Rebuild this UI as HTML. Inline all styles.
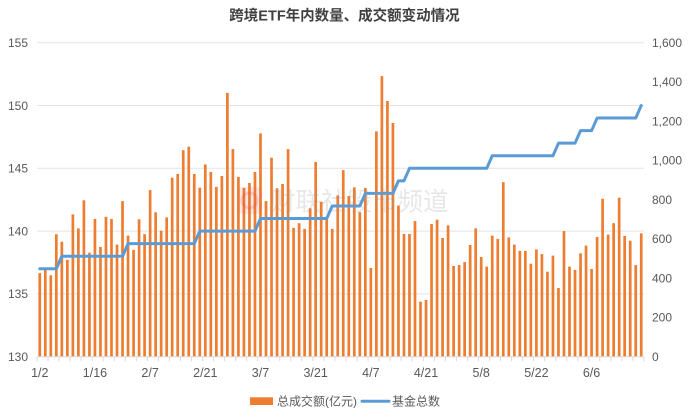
<!DOCTYPE html>
<html><head><meta charset="utf-8"><style>
html,body{margin:0;padding:0;background:#fff;}
svg{display:block;}
text{font-family:"Liberation Sans","Noto Sans CJK SC",sans-serif;}
</style></head><body>
<svg width="692" height="419" viewBox="0 0 692 419" xmlns="http://www.w3.org/2000/svg">
<rect width="692" height="419" fill="#fff"/>
<text x="344.5" y="20.5" text-anchor="middle" font-size="14.5" font-weight="bold" fill="#404040">跨境ETF年内数量、成交额变动情况</text>
<g stroke="#e3e3e3" stroke-width="1">
<line x1="37" y1="42.7" x2="644" y2="42.7"/>
<line x1="37" y1="105.5" x2="644" y2="105.5"/>
<line x1="37" y1="168.3" x2="644" y2="168.3"/>
<line x1="37" y1="231.1" x2="644" y2="231.1"/>
<line x1="37" y1="293.9" x2="644" y2="293.9"/>
</g>
<g fill="#595959" font-size="12" text-anchor="end">
<text x="28" y="47">155</text><text x="28" y="109.8">150</text><text x="28" y="172.6">145</text><text x="28" y="235.4">140</text><text x="28" y="298.2">135</text><text x="28" y="361">130</text>
</g>
<g fill="#595959" font-size="12">
<text x="652" y="47">1,600</text><text x="652" y="86.2">1,400</text><text x="652" y="125.5">1,200</text><text x="652" y="164.7">1,000</text><text x="652" y="204">800</text><text x="652" y="243.2">600</text><text x="652" y="282.5">400</text><text x="652" y="321.7">200</text><text x="652" y="361">0</text>
</g>
<g fill="#ED7D31">
<rect x="38.41" y="273.1" width="2.7" height="83.6"/>
<rect x="43.93" y="269.4" width="2.7" height="87.3"/>
<rect x="49.45" y="275.3" width="2.7" height="81.4"/>
<rect x="54.96" y="234.2" width="2.7" height="122.5"/>
<rect x="60.48" y="241.7" width="2.7" height="115"/>
<rect x="66.00" y="259.9" width="2.7" height="96.8"/>
<rect x="71.52" y="214.4" width="2.7" height="142.3"/>
<rect x="77.04" y="228.4" width="2.7" height="128.3"/>
<rect x="82.55" y="200.3" width="2.7" height="156.4"/>
<rect x="88.07" y="252.7" width="2.7" height="104"/>
<rect x="93.59" y="218.9" width="2.7" height="137.8"/>
<rect x="99.11" y="247.0" width="2.7" height="109.7"/>
<rect x="104.63" y="216.8" width="2.7" height="139.9"/>
<rect x="110.14" y="218.9" width="2.7" height="137.8"/>
<rect x="115.66" y="244.6" width="2.7" height="112.1"/>
<rect x="121.18" y="201.1" width="2.7" height="155.6"/>
<rect x="126.70" y="235.6" width="2.7" height="121.1"/>
<rect x="132.22" y="249.9" width="2.7" height="106.8"/>
<rect x="137.74" y="219.3" width="2.7" height="137.4"/>
<rect x="143.25" y="234.2" width="2.7" height="122.5"/>
<rect x="148.77" y="190.1" width="2.7" height="166.6"/>
<rect x="154.29" y="212.3" width="2.7" height="144.4"/>
<rect x="159.81" y="230.7" width="2.7" height="126"/>
<rect x="165.33" y="217.4" width="2.7" height="139.3"/>
<rect x="170.84" y="177.7" width="2.7" height="179"/>
<rect x="176.36" y="174.0" width="2.7" height="182.7"/>
<rect x="181.88" y="150.2" width="2.7" height="206.5"/>
<rect x="187.40" y="146.7" width="2.7" height="210"/>
<rect x="192.92" y="174.0" width="2.7" height="182.7"/>
<rect x="198.43" y="187.7" width="2.7" height="169"/>
<rect x="203.95" y="164.4" width="2.7" height="192.3"/>
<rect x="209.47" y="172.0" width="2.7" height="184.7"/>
<rect x="214.99" y="186.9" width="2.7" height="169.8"/>
<rect x="220.51" y="176.0" width="2.7" height="180.7"/>
<rect x="226.03" y="92.9" width="2.7" height="263.8"/>
<rect x="231.54" y="149.1" width="2.7" height="207.6"/>
<rect x="237.06" y="176.9" width="2.7" height="179.8"/>
<rect x="242.58" y="187.9" width="2.7" height="168.8"/>
<rect x="248.10" y="183.0" width="2.7" height="173.7"/>
<rect x="253.62" y="172.0" width="2.7" height="184.7"/>
<rect x="259.14" y="133.4" width="2.7" height="223.3"/>
<rect x="264.65" y="201.1" width="2.7" height="155.6"/>
<rect x="270.17" y="157.7" width="2.7" height="199"/>
<rect x="275.69" y="188.3" width="2.7" height="168.4"/>
<rect x="281.21" y="184.0" width="2.7" height="172.7"/>
<rect x="286.73" y="149.1" width="2.7" height="207.6"/>
<rect x="292.24" y="227.8" width="2.7" height="128.9"/>
<rect x="297.76" y="223.2" width="2.7" height="133.5"/>
<rect x="303.28" y="228.9" width="2.7" height="127.8"/>
<rect x="308.80" y="208.3" width="2.7" height="148.4"/>
<rect x="314.32" y="162.0" width="2.7" height="194.7"/>
<rect x="319.83" y="201.7" width="2.7" height="155"/>
<rect x="325.35" y="217.4" width="2.7" height="139.3"/>
<rect x="330.87" y="228.9" width="2.7" height="127.8"/>
<rect x="336.39" y="195.4" width="2.7" height="161.3"/>
<rect x="341.91" y="170.1" width="2.7" height="186.6"/>
<rect x="347.43" y="196.0" width="2.7" height="160.7"/>
<rect x="352.94" y="187.3" width="2.7" height="169.4"/>
<rect x="358.46" y="212.1" width="2.7" height="144.6"/>
<rect x="363.98" y="187.9" width="2.7" height="168.8"/>
<rect x="369.50" y="268.0" width="2.7" height="88.7"/>
<rect x="375.02" y="131.4" width="2.7" height="225.3"/>
<rect x="380.53" y="76.1" width="2.7" height="280.6"/>
<rect x="386.05" y="101.0" width="2.7" height="255.7"/>
<rect x="391.57" y="123.0" width="2.7" height="233.7"/>
<rect x="397.09" y="205.6" width="2.7" height="151.1"/>
<rect x="402.61" y="234.0" width="2.7" height="122.7"/>
<rect x="408.12" y="234.0" width="2.7" height="122.7"/>
<rect x="413.64" y="221.1" width="2.7" height="135.6"/>
<rect x="419.16" y="301.7" width="2.7" height="55"/>
<rect x="424.68" y="300.0" width="2.7" height="56.7"/>
<rect x="430.20" y="224.0" width="2.7" height="132.7"/>
<rect x="435.72" y="219.7" width="2.7" height="137"/>
<rect x="441.23" y="238.0" width="2.7" height="118.7"/>
<rect x="446.75" y="225.4" width="2.7" height="131.3"/>
<rect x="452.27" y="266.0" width="2.7" height="90.7"/>
<rect x="457.79" y="265.1" width="2.7" height="91.6"/>
<rect x="463.31" y="262.1" width="2.7" height="94.6"/>
<rect x="468.82" y="245.0" width="2.7" height="111.7"/>
<rect x="474.34" y="228.4" width="2.7" height="128.3"/>
<rect x="479.86" y="257.0" width="2.7" height="99.7"/>
<rect x="485.38" y="266.6" width="2.7" height="90.1"/>
<rect x="490.90" y="235.6" width="2.7" height="121.1"/>
<rect x="496.41" y="238.9" width="2.7" height="117.8"/>
<rect x="501.93" y="182.2" width="2.7" height="174.5"/>
<rect x="507.45" y="237.4" width="2.7" height="119.3"/>
<rect x="512.97" y="244.6" width="2.7" height="112.1"/>
<rect x="518.49" y="250.9" width="2.7" height="105.8"/>
<rect x="524.01" y="250.9" width="2.7" height="105.8"/>
<rect x="529.52" y="263.7" width="2.7" height="93"/>
<rect x="535.04" y="249.4" width="2.7" height="107.3"/>
<rect x="540.56" y="254.1" width="2.7" height="102.6"/>
<rect x="546.08" y="271.7" width="2.7" height="85"/>
<rect x="551.60" y="255.6" width="2.7" height="101.1"/>
<rect x="557.11" y="288.0" width="2.7" height="68.7"/>
<rect x="562.63" y="231.1" width="2.7" height="125.6"/>
<rect x="568.15" y="266.6" width="2.7" height="90.1"/>
<rect x="573.67" y="270.0" width="2.7" height="86.7"/>
<rect x="579.19" y="253.3" width="2.7" height="103.4"/>
<rect x="584.70" y="245.6" width="2.7" height="111.1"/>
<rect x="590.22" y="269.0" width="2.7" height="87.7"/>
<rect x="595.74" y="237.0" width="2.7" height="119.7"/>
<rect x="601.26" y="198.7" width="2.7" height="158"/>
<rect x="606.78" y="234.6" width="2.7" height="122.1"/>
<rect x="612.30" y="223.2" width="2.7" height="133.5"/>
<rect x="617.81" y="197.7" width="2.7" height="159"/>
<rect x="623.33" y="236.0" width="2.7" height="120.7"/>
<rect x="628.85" y="240.7" width="2.7" height="116"/>
<rect x="634.37" y="265.1" width="2.7" height="91.6"/>
<rect x="639.89" y="233.3" width="2.7" height="123.4"/>
</g>
<line x1="37" y1="356.7" x2="644" y2="356.7" stroke="#d9d9d9" stroke-width="1"/>
<path stroke="#d9d9d9" stroke-width="1" fill="none" d="M37 356.7v4.5M48.04 356.7v4.5M59.07 356.7v4.5M70.11 356.7v4.5M81.15 356.7v4.5M92.18 356.7v4.5M103.22 356.7v4.5M114.25 356.7v4.5M125.29 356.7v4.5M136.33 356.7v4.5M147.36 356.7v4.5M158.4 356.7v4.5M169.44 356.7v4.5M180.47 356.7v4.5M191.51 356.7v4.5M202.55 356.7v4.5M213.58 356.7v4.5M224.62 356.7v4.5M235.65 356.7v4.5M246.69 356.7v4.5M257.73 356.7v4.5M268.76 356.7v4.5M279.8 356.7v4.5M290.84 356.7v4.5M301.87 356.7v4.5M312.91 356.7v4.5M323.95 356.7v4.5M334.98 356.7v4.5M346.02 356.7v4.5M357.05 356.7v4.5M368.09 356.7v4.5M379.13 356.7v4.5M390.16 356.7v4.5M401.2 356.7v4.5M412.24 356.7v4.5M423.27 356.7v4.5M434.31 356.7v4.5M445.35 356.7v4.5M456.38 356.7v4.5M467.42 356.7v4.5M478.45 356.7v4.5M489.49 356.7v4.5M500.53 356.7v4.5M511.56 356.7v4.5M522.6 356.7v4.5M533.64 356.7v4.5M544.67 356.7v4.5M555.71 356.7v4.5M566.75 356.7v4.5M577.78 356.7v4.5M588.82 356.7v4.5M599.85 356.7v4.5M610.89 356.7v4.5M621.93 356.7v4.5M632.96 356.7v4.5M644 356.7v4.5"/>
<polyline fill="none" stroke="#5B9BD5" stroke-width="3" stroke-linejoin="round" stroke-linecap="round" points="39.76,268.78 56.31,268.78 61.83,256.22 122.53,256.22 128.05,243.66 194.27,243.66 199.79,231.1 254.97,231.1 260.49,218.54 326.71,218.54 332.23,205.98 359.82,205.98 365.34,193.42 392.93,193.42 398.45,180.86 403.97,180.86 409.49,168.3 486.74,168.3 492.26,155.74 552.96,155.74 558.48,143.18 575.03,143.18 580.55,130.62 591.59,130.62 597.1,118.06 635.73,118.06 641.25,105.5"/>
<g opacity="0.5">
<rect x="237" y="187" width="25" height="27" rx="6" fill="rgba(235,90,80,0.28)"/>
<circle cx="249.5" cy="200.5" r="7.5" fill="none" stroke="rgba(230,70,60,0.45)" stroke-width="3"/>
<text x="270" y="210.5" font-size="25.5" fill="rgba(150,150,150,0.45)" font-family="'Noto Sans CJK SC',sans-serif">财联社股市频道</text>
</g>
<g fill="#595959" font-size="12.5" text-anchor="middle">
<text x="39.76" y="377">1/2</text><text x="94.94" y="377">1/16</text><text x="150.12" y="377">2/7</text><text x="205.3" y="377">2/21</text><text x="260.48" y="377">3/7</text><text x="315.66" y="377">3/21</text><text x="370.84" y="377">4/7</text><text x="426.02" y="377">4/21</text><text x="481.2" y="377">5/8</text><text x="536.38" y="377">5/22</text><text x="591.56" y="377">6/6</text>
</g>
<rect x="250" y="397.3" width="23" height="7.7" fill="#ED7D31"/>
<text x="277" y="405.3" font-size="12" fill="#595959">总成交额(亿元)</text>
<line x1="362" y1="401.2" x2="389" y2="401.2" stroke="#5B9BD5" stroke-width="3" stroke-linecap="round"/>
<text x="392" y="405.3" font-size="12" fill="#595959">基金总数</text>
</svg>
</body></html>
